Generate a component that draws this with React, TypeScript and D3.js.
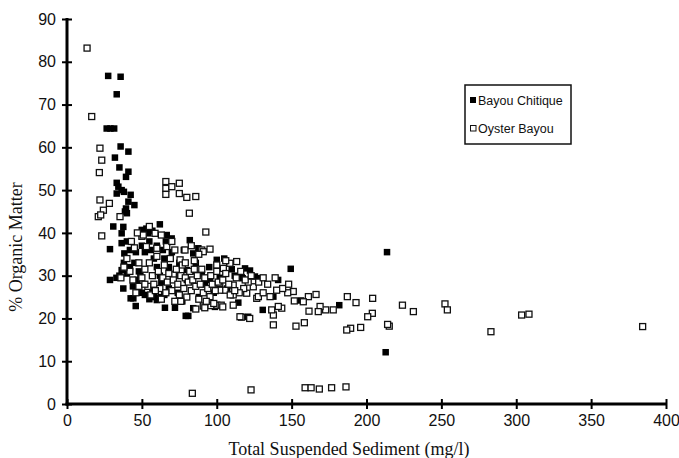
import * as d3 from "d3";
import { useEffect, useRef } from "react";

// tick values
const xTicks = [0, 50, 100, 150, 200, 250, 300, 350, 400];
const yTicks = [0, 10, 20, 30, 40, 50, 60, 70, 80, 90];

// Bayou Chitique (filled squares): [TSS mg/l, % organic matter]
const bayouChitique = [
  [27.5, 76.7], [35.8, 76.5], [33.2, 72.4], [26.5, 64.4], [29, 64.4], [31.5, 64.4],
  [35.8, 60.2], [41, 59], [32, 57.6], [35, 55.3], [41, 54.3], [39.4, 53.1], [33.2, 51.7],
  [34.3, 50.8], [36.5, 50], [33.2, 49.2], [38, 49.6], [42.5, 48.9], [41, 47.3], [45, 46.5],
  [39.4, 45.7], [38.7, 45], [40, 44.6], [37.6, 41.4], [30.9, 41.5], [62, 42], [36.5, 39.9],
  [49.9, 40.7], [54.3, 39.9], [36.5, 37.6], [28.7, 36.2], [38.3, 35.2], [36.5, 31.3],
  [28.7, 29], [33, 29.5], [42.5, 24.7], [44.3, 24.7], [45.9, 22.9], [37.6, 27],
  [62, 24.7], [72.1, 22.5], [82, 38.3], [66.6, 39.5], [69.9, 38.7], [87.7, 36.4],
  [100, 33.7], [108.4, 32.9], [110, 31.5], [116.7, 29.6], [95.5, 29], [84.3, 35.2], [80, 31.3],
  [40, 38], [42, 36], [45, 33], [48, 31], [50, 37], [52, 35.5], [53, 41], [55, 38], [56, 36],
  [58, 34], [57, 40.5], [60, 37], [60, 32], [62, 30], [64, 36], [65, 34], [66, 38], [68, 32],
  [70, 35.5], [72, 30], [75, 33], [78, 36], [80, 29], [83, 31], [86, 33], [90, 30.5], [92, 28],
  [95, 32], [98, 26], [102, 29.5], [105, 34], [107, 27], [112, 30], [40, 30.5], [44, 27.5],
  [47, 29], [50, 26], [52, 25.5], [55, 24.5], [58, 25], [60, 24.3], [62.5, 25], [65, 25.5],
  [57, 27], [63, 28.5], [68, 27], [74, 26], [77, 24], [88, 25], [35, 30], [38, 33], [42, 32],
  [46, 35.5], [49, 30],
  [118.9, 31.7], [122.2, 31.2], [125.5, 29.8], [127.7, 29.4], [117.3, 29.4], [130.7, 22],
  [121, 20.4], [137.8, 25.1], [141, 29], [149.4, 31.6], [156.3, 24.2], [181.8, 23.1],
  [213.7, 35.5], [212.8, 12.1], [114.4, 23.7], [98.8, 22.7], [84.3, 22.4], [79.3, 20.6],
  [81, 20.6], [65.4, 22.5],
];

// Oyster Bayou (open squares)
const oysterBayou = [
  [13.4, 83.2], [16.5, 67.2], [22, 59.8], [23.2, 57], [21.6, 54.1], [22, 47.7], [28.3, 46.9],
  [24.3, 45.3], [20.9, 43.8], [22.5, 44.2], [35.4, 43.8], [23.2, 39.3], [66, 52], [66, 50.4],
  [66, 49], [70, 50.8], [75, 51.6], [75, 49.2], [80, 48.3], [86, 48.5], [81.7, 44.6],
  [92.7, 40.2], [83.7, 2.5], [50, 39.2], [58.8, 39.9],
  [122.9, 3.3], [159, 3.8], [163, 3.8], [168.5, 3.5], [176.7, 3.8], [186.3, 4.0],
  [384.4, 18.1], [303.6, 20.8], [308.5, 21.0], [283.1, 16.9], [252.4, 23.4], [254, 22],
  [231.3, 21.6], [224, 23.1], [215.2, 18.2], [214.1, 18.6], [204.1, 24.7], [203.9, 21.2],
  [200.8, 20.4], [196.1, 17.9], [189.4, 17.7], [186.8, 17.3], [187.2, 25.1], [193, 23.7],
  [177.8, 22], [172.7, 22], [169, 22.8], [167.8, 21.6], [166.3, 25.6], [161.2, 25.1],
  [161.6, 21.7], [157.8, 23.9], [151.8, 24.1], [151.1, 26.3], [147.4, 26], [158.5, 19],
  [152.9, 18.2], [137.8, 18.5], [137.8, 20.8], [143.4, 22.4], [141.1, 22.8], [136.7, 22],
  [126.7, 24.7], [120, 25.9], [116.6, 20.3],
  [95.5, 36.2], [90, 36], [113.3, 33.3], [108.8, 32.9], [104.4, 31.7], [105.5, 26.6],
  [111, 27.8], [102, 26.6], [95.5, 25.1], [100, 23.1], [103, 23.1], [111, 23.1],
  [124.4, 27.4], [127.8, 25.1], [135.6, 25.1], [140, 26.6], [131, 26], [118, 27],
  [121, 28.5], [115, 26], [75.5, 33.7], [91, 35.6], [71, 30.2], [102, 28.2], [104, 22.7],
  [111, 25.5], [122, 20], [115.5, 20.4], [50.9, 39.5], [53, 36.8], [60, 36.4], [66.6, 36.8],
  [72, 36], [78.8, 36], [91, 22.9], [96, 23],
  [40, 34], [42, 31], [44, 29], [45, 36.5], [48, 33], [50, 29.5], [52, 31.5], [54, 27.5],
  [55, 33], [57, 30], [58, 28], [60, 34.5], [61, 31], [62, 27], [64, 29.5], [65, 32.5],
  [67, 28.5], [68, 30.5], [69, 34], [70, 26.5], [71, 29], [73, 31.5], [74, 28], [75, 25.5],
  [76, 30], [77, 32.5], [78, 27], [79, 29.5], [80, 25], [81, 28.5], [82, 31], [83, 26.5],
  [84, 29], [85, 33.5], [86, 27.5], [87, 30], [88, 24.5], [89, 28], [90, 31.5], [91, 26],
  [92, 29.5], [93, 24], [94, 27], [96, 30], [97, 28], [99, 26.5], [100, 31], [101, 28.5],
  [104, 29], [106, 30.5], [108, 28], [109, 25.5], [112, 26.5], [113, 29.5], [46, 26],
  [48, 27.5], [52, 28], [56, 25.5], [59, 26.5], [63, 24.5], [66, 26], [72, 24], [38, 32],
  [36, 29.5], [43, 38], [47, 40], [55, 41.5], [63, 39.5], [70, 38], [83, 37], [88, 35],
  [100, 32.5], [106, 33.5], [79, 33], [85, 31.5], [76, 24], [92, 22.5], [98, 23.5],
  [86, 22.2], [116, 31], [119, 29], [123, 30], [128, 28.5], [131, 29.5], [134, 28],
  [139, 29.5], [144, 27], [148, 28],
];

const W = 679;
const H = 458;
const margin = { top: 19, right: 13, bottom: 54, left: 67 };
const sans = "'Liberation Sans', Arial, sans-serif";
const serif = "'Liberation Serif', 'Times New Roman', serif";

export default function App() {
  const xAxisRef = useRef<SVGGElement>(null);
  const yAxisRef = useRef<SVGGElement>(null);

  const x = d3.scaleLinear().domain([0, 400]).range([margin.left, W - margin.right]);
  const y = d3.scaleLinear().domain([0, 90]).range([H - margin.bottom, margin.top]);

  useEffect(() => {
    const gx = d3.select(xAxisRef.current);
    gx.selectAll("*").remove();
    gx.call(d3.axisBottom(x).tickValues(xTicks).tickSize(5).tickPadding(6));
    gx.select(".domain").attr("stroke-width", 3).attr("d", `M${x(0) - 1.5},0H${x(400) + 1}`);
    gx.selectAll(".tick line").attr("y1", -5).attr("y2", 5).attr("stroke-width", 2);
    gx.selectAll(".tick text")
      .attr("font-family", sans)
      .attr("font-size", 16)
      .attr("fill", "#111");

    const gy = d3.select(yAxisRef.current);
    gy.selectAll("*").remove();
    gy.call(d3.axisLeft(y).tickValues(yTicks).tickSize(5).tickPadding(6));
    gy.select(".domain").attr("stroke-width", 3).attr("d", `M0,${y(90) - 1}V${y(0) + 1.5}`);
    gy.selectAll(".tick line").attr("x1", -5).attr("x2", 5).attr("stroke-width", 2);
    gy.selectAll(".tick text")
      .attr("font-family", sans)
      .attr("font-size", 16)
      .attr("fill", "#111");
  }, []);

  const s = 6.5;

  return (
    <svg width={W} height={H} style={{ position: "absolute", left: 0, top: 0, background: "#fff" }}>
      <g>
        {bayouChitique.map((d, i) => (
          <rect key={"c" + i} x={x(d[0]) - s / 2} y={y(d[1]) - s / 2} width={s} height={s} fill="#000" />
        ))}
        {oysterBayou.map((d, i) => (
          <rect key={"o" + i} x={x(d[0]) - 3} y={y(d[1]) - 3} width={6} height={6}
            fill="#fff" stroke="#111" strokeWidth={1.3} />
        ))}
      </g>
      <g ref={xAxisRef} transform={`translate(0,${y(0)})`} />
      <g ref={yAxisRef} transform={`translate(${x(0)},0)`} />

      <text x={349} y={455} textAnchor="middle" fontFamily={serif} fontSize={18} fill="#111">
        Total Suspended Sediment (mg/l)
      </text>
      <text transform={`translate(22,247) rotate(-90)`} textAnchor="middle" fontFamily={serif} fontSize={18} fill="#111">
        % Organic Matter
      </text>

      <g>
        <rect x={465} y={85} width={106} height={59} fill="#fff" stroke="#111" strokeWidth={1.5} />
        <rect x={470} y={97} width={6} height={6} fill="#000" />
        <text x={478} y={105} fontFamily={sans} fontSize={12.5} fill="#111">Bayou Chitique</text>
        <rect x={470.5} y={125.5} width={5.5} height={5.5} fill="#fff" stroke="#111" strokeWidth={1} />
        <text x={478} y={133} fontFamily={sans} fontSize={12.5} fill="#111">Oyster Bayou</text>
      </g>
    </svg>
  );
}
